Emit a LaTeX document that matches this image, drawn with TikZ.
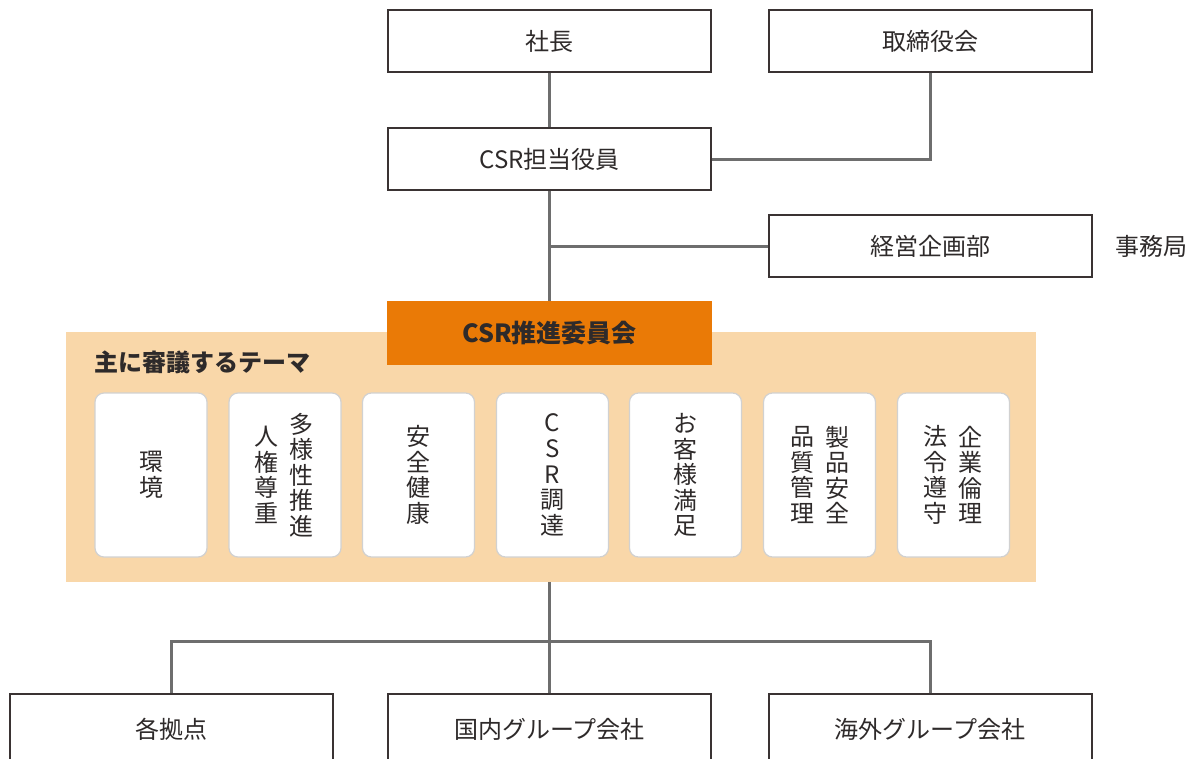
\documentclass[tikz,border=0pt]{standalone}
\usepackage{fontspec}
\setmainfont{Noto Sans CJK JP}
\usepackage{tikz}
\usetikzlibrary{positioning}
\definecolor{boxline}{HTML}{3A3333}
\definecolor{linegray}{HTML}{6E6E6E}
\definecolor{textdark}{HTML}{2E2A2A}
\definecolor{csrorange}{HTML}{EA7A06}
\definecolor{themebeige}{HTML}{F9D7A9}
\tikzstyle{orgbox}=[draw=boxline,line width=2pt,fill=white,text=textdark,minimum width=323pt,minimum height=62pt,inner sep=0pt,font=\fontsize{24}{26}\selectfont]
\tikzstyle{themebox}=[rounded corners=9pt,fill=white,draw=black!18,line width=1.2pt,minimum width=112pt,minimum height=164pt]
\tikzstyle{vtext}=[align=center,inner sep=0pt,text=textdark,font=\fontsize{24}{25.6}\selectfont]
\tikzstyle{link}=[draw=linegray,line width=3pt]

\begin{document}
\begin{tikzpicture}[x=1pt,y=-1pt]
    \useasboundingbox (0,0) rectangle (1199,758);
    % top of the organisation
    \node[orgbox] (president) at (549.5,41) {社長};
    \node[orgbox] (board) at (930,41) {取締役会};
    \node[orgbox] (officer) at (549.5,159) {CSR担当役員};
    \node[orgbox] (planning) at (930,246) {経営企画部};
    \node[right=23pt of planning,inner sep=0pt,text=textdark,font=\fontsize{24}{26}\selectfont] (office) {事務局};
    % themes area
    \node[fill=themebeige,minimum width=970pt,minimum height=250pt,inner sep=0pt,anchor=north west] (themes) at (66,332) {};
    \node[orgbox,fill=csrorange,draw=csrorange,font=\fontsize{25}{26}\bfseries] (committee) at (549.5,333) {CSR推進委員会};
    \node[anchor=west,inner sep=0pt,text=textdark,font=\fontsize{24}{26}\bfseries] (themelabel) at (94,362) {主に審議するテーマ};
    \foreach \x/\n in {151/1,285/2,418.5/3,552.5/4,685.5/5,819.5/6,953.5/7}
        \node[themebox] (theme\n) at (\x,475) {};
    \node[vtext] (env) at (theme1) {環\\境};
    \node[vtext] (diversity) at ([xshift=16pt]theme2.center) {多\\様\\性\\推\\進};
    \node[vtext] (rights) at ([xshift=-19pt]theme2.center) {人\\権\\尊\\重};
    \node[vtext] (safety) at (theme3) {安\\全\\健\\康};
    \node[vtext] (procure) at (theme4) {C\\S\\R\\調\\達};
    \node[vtext] (customer) at (theme5) {お\\客\\様\\満\\足};
    \node[vtext] (product) at ([xshift=18pt]theme6.center) {製\\品\\安\\全};
    \node[vtext] (quality) at ([xshift=-17pt]theme6.center) {品\\質\\管\\理};
    \node[vtext] (ethics) at ([xshift=17pt]theme7.center) {企\\業\\倫\\理};
    \node[vtext] (law) at ([xshift=-18pt]theme7.center) {法\\令\\遵\\守};
    % group companies
    \node[orgbox,minimum height=70pt,anchor=north] (sites) at (171.5,693) {各拠点};
    \node[orgbox,minimum height=70pt,anchor=north] (domestic) at (549.5,693) {国内グループ会社};
    \node[orgbox,minimum height=70pt,anchor=north] (overseas) at (930,693) {海外グループ会社};
    \coordinate (split) at (549.5,641);
    % connectors
    \draw[link] (president) -- (officer);
    \draw[link] (board) |- (officer);
    \draw[link] (officer) -- (committee);
    \draw[link] (planning.west) -- (planning.west -| officer.south);
    \draw[link] (themes.south -| split) -- (domestic.north);
    \draw[link] (sites.north) |- (split) -| (overseas.north);
\end{tikzpicture}
\end{document}
